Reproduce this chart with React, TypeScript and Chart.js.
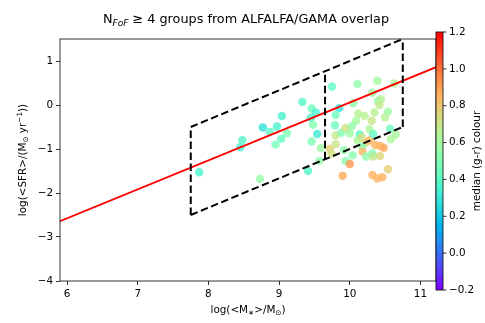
import React, { useEffect, useRef } from "react";
import { Chart, registerables } from "chart.js";

Chart.register(...registerables);

// ---- data ----
const sfrX = [7.87, 8.45, 8.48, 8.73, 8.77, 8.87, 8.97, 9.04, 8.95, 9.03, 9.11, 9.33, 9.46, 9.52, 9.45, 9.48, 9.54, 9.46, 9.41, 9.59, 9.57, 9.75, 9.85, 9.80, 9.79, 9.72, 9.74, 9.80, 9.80, 9.88, 9.94, 10.0, 9.92, 9.94, 10.0, 9.90, 10.04, 10.11, 10.05, 10.12, 10.09, 10.03, 10.21, 10.14, 10.11, 10.17, 10.23, 10.18, 10.18, 10.23, 10.28, 10.28, 10.31, 10.35, 10.39, 10.32, 10.40, 10.44, 10.42, 10.33, 10.36, 10.32, 10.33, 10.43, 10.43, 10.48, 10.46, 10.39, 10.32, 10.54, 10.50, 10.54, 10.57, 10.63, 10.65, 10.58];
const sfrY = [-1.53, -0.96, -0.80, -1.68, -0.51, -0.61, -0.49, -0.25, -0.90, -0.77, -0.64, 0.07, -0.08, -0.17, -0.29, -0.45, -0.66, -0.83, -1.50, -0.98, -1.27, 0.42, -0.07, -0.23, -0.46, -1.00, -1.11, -0.69, -0.89, -0.63, -0.52, -0.64, -1.02, -1.27, -1.34, -1.61, -1.14, 0.48, 0.04, -0.20, -0.36, -0.48, -0.25, -0.67, -0.80, -0.73, -0.86, -0.95, -1.06, -1.17, -0.80, -0.55, -0.36, -0.17, 0.55, 0.28, 0.09, 0.13, 0.00, -0.66, -0.91, -1.10, -1.17, -1.16, -0.93, -0.97, -1.64, -1.67, -1.59, -1.46, -0.28, -0.15, -0.54, 0.49, -0.67, -0.78];
const grColour = [0.35, 0.35, 0.38, 0.55, 0.28, 0.40, 0.35, 0.35, 0.48, 0.42, 0.50, 0.38, 0.45, 0.35, 0.35, 0.52, 0.32, 0.50, 0.38, 0.58, 0.55, 0.42, 0.30, 0.45, 0.45, 0.78, 0.72, 0.68, 0.70, 0.50, 0.72, 0.58, 0.55, 0.52, 0.92, 0.88, 0.52, 0.55, 0.55, 0.65, 0.60, 0.55, 0.65, 0.40, 0.62, 0.72, 0.80, 0.52, 0.85, 0.55, 0.85, 0.62, 0.70, 0.65, 0.60, 0.58, 0.55, 0.65, 0.68, 0.42, 0.85, 0.50, 0.68, 0.75, 0.85, 0.88, 0.85, 0.85, 0.85, 0.78, 0.65, 0.58, 0.45, 0.62, 0.62, 0.62];

const fitX = [5.9, 11.22];
const fitY = [-2.64, 0.86];

const boxX = [7.75, 10.75];
const boxTopY = [-0.5, 1.5];
const boxBottomY = [-2.5, -0.5];
const boxMidX = 9.65;
const boxMidY = [-1.233, 0.767];

const xTicks = [6, 7, 8, 9, 10, 11];
const yTicks = [-4, -3, -2, -1, 0, 1];
const cbTicks = [-0.2, 0.0, 0.2, 0.4, 0.6, 0.8, 1.0, 1.2];
const cMin = -0.2;
const cMax = 1.2;

const FONT = '"DejaVu Sans", sans-serif';

function rainbow(v: number, a = 1) {
  const t = Math.min(1, Math.max(0, (v - cMin) / (cMax - cMin)));
  const cl = (u: number) => Math.round(Math.min(1, Math.max(0, u)) * 255);
  const r = cl(Math.abs(2 * t - 0.5));
  const g = cl(Math.sin(Math.PI * t));
  const b = cl(Math.cos((Math.PI * t) / 2));
  return `rgba(${r},${g},${b},${a})`;
}

type Part = [string, number, number, boolean?];

function drawRich(ctx: CanvasRenderingContext2D, parts: Part[], x: number, y: number) {
  let total = 0;
  const widths: number[] = [];
  for (const p of parts) {
    ctx.font = `${p[3] ? "italic " : ""}${p[1]}px ${FONT}`;
    const w = ctx.measureText(p[0]).width;
    widths.push(w);
    total += w;
  }
  let cx = x - total / 2;
  ctx.textAlign = "left";
  ctx.textBaseline = "alphabetic";
  parts.forEach((p, i) => {
    ctx.font = `${p[3] ? "italic " : ""}${p[1]}px ${FONT}`;
    ctx.fillText(p[0], cx, y + p[2]);
    cx += widths[i];
  });
}

const fmt = (v: number, d = 0) => (v < 0 ? "\u2212" + Math.abs(v).toFixed(d) : v.toFixed(d));

const decorPlugin = {
  id: "decor",
  afterDraw(chart: any) {
    const ctx: CanvasRenderingContext2D = chart.ctx;
    const a = chart.chartArea;
    ctx.save();
    // frame
    ctx.strokeStyle = "#000";
    ctx.lineWidth = 0.8;
    ctx.strokeRect(a.left, a.top, a.right - a.left, a.bottom - a.top);

    ctx.fillStyle = "#000";
    // title
    drawRich(ctx, [["N", 12.8, 0], ["FoF", 9, 3, true], [" \u2265 4 groups from ALFALFA/GAMA overlap", 12.8, 0]], (a.left + a.right) / 2 - 2, 23);
    // x label
    drawRich(ctx, [["log(<M", 10.4, 0], ["\u2217", 7.3, 2], [">/M", 10.4, 0], ["\u2299", 7.3, 2], [")", 10.4, 0]], (a.left + a.right) / 2, 313);
    // y label
    ctx.save();
    ctx.translate(26, (a.top + a.bottom) / 2);
    ctx.rotate(-Math.PI / 2);
    drawRich(ctx, [["log(<SFR>/(M", 10.4, 0], ["\u2299", 7.3, 2], [" yr", 10.4, 0], ["\u22121", 7.3, -4], ["))", 10.4, 0]], 0, 0);
    ctx.restore();

    // colorbar
    const cbL = 436, cbR = 443, cbT = 32, cbB = 290;
    const grad = ctx.createLinearGradient(0, cbB, 0, cbT);
    for (let i = 0; i <= 40; i++) {
      const t = i / 40;
      grad.addColorStop(t, rainbow(cMin + t * (cMax - cMin)));
    }
    ctx.fillStyle = grad;
    ctx.fillRect(cbL, cbT, cbR - cbL, cbB - cbT);
    ctx.strokeStyle = "#000";
    ctx.lineWidth = 0.8;
    ctx.strokeRect(cbL, cbT, cbR - cbL, cbB - cbT);
    ctx.fillStyle = "#000";
    ctx.font = `10.4px ${FONT}`;
    ctx.textAlign = "left";
    ctx.textBaseline = "middle";
    for (const v of cbTicks) {
      const y = cbB - ((v - cMin) / (cMax - cMin)) * (cbB - cbT);
      ctx.beginPath();
      ctx.moveTo(cbR, y);
      ctx.lineTo(cbR + 3.5, y);
      ctx.stroke();
      ctx.fillText(fmt(v, 1), cbR + 6, y);
    }
    ctx.save();
    ctx.translate(480, (cbT + cbB) / 2);
    ctx.rotate(-Math.PI / 2);
    drawRich(ctx, [["median (g-r) colour", 10.4, 0]], 0, 0);
    ctx.restore();
    ctx.restore();
  },
};

export default function App() {
  const ref = useRef<HTMLCanvasElement>(null);
  useEffect(() => {
    if (!ref.current) return;
    const pts = sfrX.map((x, i) => ({ x, y: sfrY[i] }));
    const seg = (xs: number[], ys: number[]) => xs.map((x, i) => ({ x, y: ys[i] }));
    const dashed = (data: any[]) => ({
      type: "scatter" as const,
      data,
      showLine: true,
      borderColor: "#000",
      borderWidth: 2,
      borderDash: [7.5, 3.5],
      pointRadius: 0,
      order: 1,
    });
    const chart = new Chart(ref.current, {
      type: "scatter",
      data: {
        datasets: [
          {
            data: pts,
            pointRadius: 4.2,
            pointBorderWidth: 0,
            pointBackgroundColor: grColour.map((c) => rainbow(c, 0.8)),
            pointBorderColor: "rgba(0,0,0,0)",
            order: 3,
          },
          {
            data: seg(fitX, fitY),
            showLine: true,
            borderColor: "#ff0000",
            borderWidth: 1.8,
            pointRadius: 0,
            order: 2,
          },
          dashed(seg(boxX, boxTopY)),
          dashed(seg(boxX, boxBottomY)),
          dashed(seg([boxX[0], boxX[0]], [boxBottomY[0], boxTopY[0]])),
          dashed(seg([boxX[1], boxX[1]], [boxBottomY[1], boxTopY[1]])),
          dashed(seg([boxMidX, boxMidX], boxMidY)),
        ] as any,
      },
      options: {
        responsive: false,
        animation: false,
        devicePixelRatio: 1,
        layout: { padding: { left: 0, right: 49, top: 39, bottom: 0 } },
        plugins: { legend: { display: false }, tooltip: { enabled: false }, title: { display: false } },
        scales: {
          x: {
            type: "linear",
            min: 5.9,
            max: 11.22,
            afterFit: (s: any) => { s.height = 42; },
            afterBuildTicks: (s: any) => { s.ticks = xTicks.map((v) => ({ value: v })); },
            border: { display: false },
            grid: { drawOnChartArea: false, drawTicks: true, tickLength: 4, color: "#000", lineWidth: 0.8 },
            ticks: { color: "#000", padding: 3, font: { family: FONT, size: 10.4 }, callback: (v: any) => fmt(Number(v)), maxRotation: 0 },
          },
          y: {
            type: "linear",
            min: -4,
            max: 1.5,
            afterFit: (s: any) => { s.width = 60; },
            afterBuildTicks: (s: any) => { s.ticks = yTicks.map((v) => ({ value: v })); },
            border: { display: false },
            grid: { drawOnChartArea: false, drawTicks: true, tickLength: 4, color: "#000", lineWidth: 0.8 },
            ticks: { color: "#000", padding: 3, font: { family: FONT, size: 10.4 }, callback: (v: any) => fmt(Number(v)) },
          },
        },
      },
      plugins: [decorPlugin],
    });
    return () => chart.destroy();
  }, []);
  return (
    <div style={{ position: "absolute", left: 0, top: 0, width: 485, height: 323, background: "#fff" }}>
      <canvas ref={ref} width={485} height={323} style={{ width: 485, height: 323 }} />
    </div>
  );
}
